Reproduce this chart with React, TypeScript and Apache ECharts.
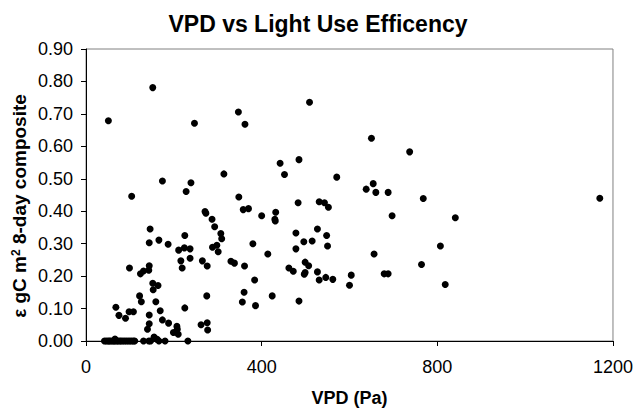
import React, { useEffect, useRef } from "react";
import * as echarts from "echarts";

// VPD (Pa) and light use efficiency values (paired by index)
const vpd: number[] = [
  42, 46, 50, 53, 56, 60, 63, 66, 70, 73, 77, 80, 84, 88, 92, 96, 100, 104, 108, 111, 131, 143, 147, 166, 180, 232,
  66, 152, 51, 247, 174, 239, 228, 104, 271, 273, 146, 144, 166, 187, 225, 211, 224, 237, 216, 237, 219, 265, 276,
  99, 144, 143, 131, 124, 152, 164, 153, 122, 126, 159, 68, 98, 108, 169, 225, 75, 90, 144, 144, 174, 188, 140,
  207, 208, 199, 210, 155, 162, 262, 276, 277,
  509, 347, 362, 485, 442, 314, 452, 348, 483, 531, 543, 552, 358, 370, 400, 432, 430, 431, 287, 293, 307, 309,
  478, 527, 548, 496, 515, 380, 288, 298, 301, 478, 550, 414, 330, 338, 361, 462, 472, 499, 507, 499, 497, 527,
  531, 546, 384, 275, 360, 356, 386, 424, 485,
  650, 737, 571, 638, 654, 660, 688, 768, 697, 656, 807, 764, 562, 604, 600, 679, 688, 818, 1170, 841,
];
const lue: number[] = [
  0, 0, 0, 0, 0, 0, 0, 0, 0, 0, 0, 0, 0, 0, 0, 0, 0, 0, 0, 0, 0, 0, 0, 0, 0, 0,
  0.006, 0.781, 0.679, 0.671, 0.493, 0.488, 0.461, 0.446, 0.399, 0.394, 0.345, 0.303, 0.311, 0.298, 0.325, 0.28, 0.287, 0.284, 0.247, 0.255, 0.225, 0.247, 0.231,
  0.225, 0.232, 0.218, 0.216, 0.207, 0.178, 0.171, 0.158, 0.139, 0.121, 0.121, 0.104, 0.09, 0.09, 0.093, 0.102, 0.079, 0.07, 0.08, 0.053, 0.065, 0.055, 0.036,
  0.045, 0.036, 0.026, 0.021, 0.012, 0.005, 0.05, 0.056, 0.034,
  0.736, 0.706, 0.668, 0.559, 0.548, 0.515, 0.513, 0.444, 0.426, 0.429, 0.426, 0.412, 0.405, 0.408, 0.386, 0.397, 0.375, 0.37, 0.375, 0.352, 0.331, 0.315,
  0.333, 0.345, 0.325, 0.306, 0.308, 0.3, 0.289, 0.295, 0.275, 0.284, 0.293, 0.268, 0.246, 0.24, 0.231, 0.225, 0.215, 0.243, 0.232, 0.211, 0.206, 0.213,
  0.188, 0.196, 0.188, 0.139, 0.15, 0.12, 0.109, 0.139, 0.123,
  0.625, 0.583, 0.505, 0.468, 0.485, 0.458, 0.458, 0.439, 0.386, 0.268, 0.293, 0.236, 0.19, 0.203, 0.172, 0.207, 0.207, 0.174, 0.44, 0.38,
];

const xTicks = { min: 0, max: 1200, interval: 400 };
const yTicks = { min: 0, max: 0.9, interval: 0.1 };

const FONT = "'Liberation Sans', Arial, sans-serif";

export default function App() {
  const ref = useRef<HTMLDivElement>(null);
  useEffect(() => {
    if (!ref.current) return;
    const chart = echarts.init(ref.current, undefined, { renderer: "svg" });
    const data = vpd.map((v, i) => [v, lue[i]]);
    chart.setOption({
      animation: false,
      backgroundColor: "#ffffff",
      title: {
        text: "VPD vs Light Use Efficency",
        left: "center",
        top: 7,
        textStyle: { fontFamily: FONT, fontSize: 23, fontWeight: "bold", color: "#000" },
      },
      grid: {
        left: 86,
        right: 22,
        top: 49,
        bottom: 71,
        show: true,
        borderColor: "#808080",
        borderWidth: 1,
      },
      xAxis: {
        type: "value",
        min: xTicks.min,
        max: xTicks.max,
        interval: xTicks.interval,
        name: "VPD (Pa)",
        nameLocation: "middle",
        nameGap: 48,
        nameTextStyle: { fontFamily: FONT, fontSize: 18, fontWeight: "bold", color: "#000" },
        axisLine: { show: true, lineStyle: { color: "#000", width: 1 } },
        axisTick: { show: true, inside: false, length: 5, lineStyle: { color: "#000" } },
        axisLabel: {
          fontFamily: FONT,
          fontSize: 18,
          color: "#000",
          margin: 17,
          formatter: (v: number) => String(v),
        },
        splitLine: { show: false },
      },
      yAxis: {
        type: "value",
        min: yTicks.min,
        max: yTicks.max,
        interval: yTicks.interval,
        axisLine: { show: true, lineStyle: { color: "#000", width: 1 } },
        axisTick: { show: true, inside: false, length: 5, lineStyle: { color: "#000" } },
        axisLabel: {
          fontFamily: FONT,
          fontSize: 18,
          color: "#000",
          margin: 13,
          formatter: (v: number) => v.toFixed(2),
        },
        splitLine: { show: false },
      },
      graphic: [
        {
          type: "text",
          x: 19,
          y: 206,
          rotation: Math.PI / 2,
          style: {
            text: "ε gC m{sup|2} 8-day composite",
            fontFamily: FONT,
            fontSize: 19,
            fontWeight: "bold",
            fill: "#000",
            align: "center",
            verticalAlign: "middle",
            rich: {
              sup: {
                fontFamily: FONT,
                fontSize: 12,
                fontWeight: "bold",
                fill: "#000",
                verticalAlign: "top",
              },
            },
          },
        },
      ],
      series: [
        {
          type: "scatter",
          data,
          symbol: "circle",
          symbolSize: 7,
          clip: false,
          itemStyle: { color: "#000", opacity: 1 },
        },
      ],
    });
    return () => chart.dispose();
  }, []);
  return (
    <div
      ref={ref}
      style={{ position: "fixed", left: 0, top: 0, width: 636, height: 412, background: "#fff" }}
    />
  );
}
